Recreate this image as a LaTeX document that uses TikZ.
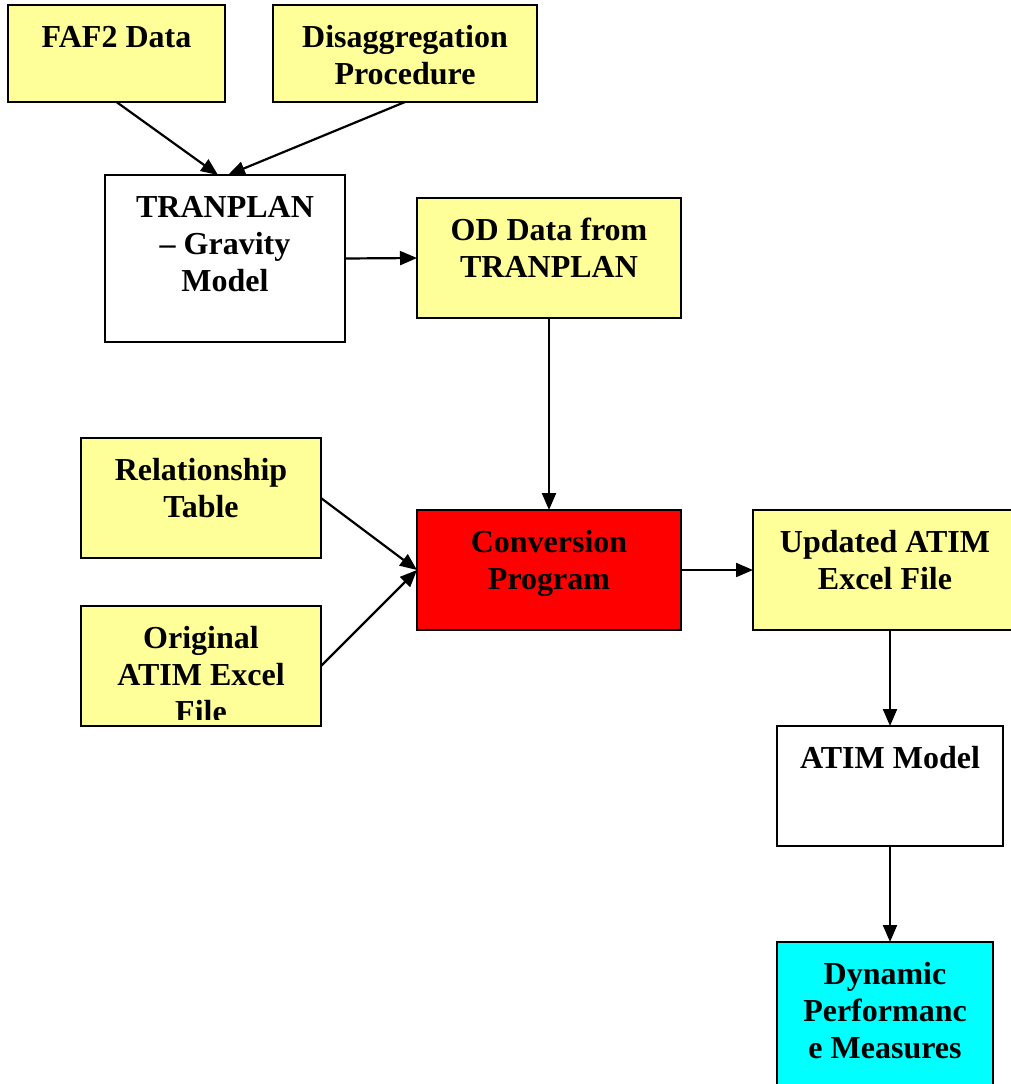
\documentclass[tikz,border=0pt]{standalone}
\usepackage{fontspec}
\setmainfont{Liberation Serif}
\usetikzlibrary{arrows.meta}
\definecolor{lightyel}{HTML}{FFFF99}
\definecolor{cyanbox}{HTML}{00FFFF}
\definecolor{redbox}{HTML}{FF0000}
\newcommand\boxtxt[3]{\parbox[t][#2pt][t]{#1pt}{\centering\fontsize{32}{37}\selectfont\bfseries\rule{0pt}{42pt}#3\par}}
\begin{document}
\begin{tikzpicture}[x=1pt,y=-1pt,
  box/.style={draw=black, line width=2pt, inner sep=0pt, outer sep=0pt, anchor=north west},
  ybox/.style={box, fill=lightyel},
  conn/.style={line width=2.2pt, -{Triangle[length=17pt,width=14pt]}}]
\useasboundingbox (0,0) rectangle (1010,1084);
\node[ybox] (faf) at (8,5) {\boxtxt{217}{97}{FAF2 Data}};
\node[ybox] (dis) at (273,5) {\boxtxt{264}{97}{Disaggregation\\Procedure}};
\node[box, fill=white] (tran) at (105,175) {\boxtxt{240}{167}{TRANPLAN\\– Gravity\\Model}};
\node[ybox] (od) at (417,198) {\boxtxt{264}{120}{OD Data from\\TRANPLAN}};
\node[ybox] (rel) at (81,438) {\boxtxt{240}{120}{Relationship\\Table}};
\node[box, fill=redbox] (conv) at (417,510) {\boxtxt{264}{120}{Conversion\\Program}};
\fill[lightyel] (81,606) rectangle (321,726);
\begin{scope}
  \clip (70,600) rectangle (330,719);
  \node[box, draw=none] (orig) at (81,606) {\boxtxt{240}{120}{Original\\ATIM Excel\\File}};
\end{scope}
\draw[line width=2pt] (orig.north west) rectangle (orig.south east);
\node[ybox] (upd) at (753,510) {\boxtxt{264}{120}{Updated ATIM\\Excel File}};
\node[box, fill=white] (atim) at (777,726) {\boxtxt{226}{120}{ATIM Model}};
\node[box, fill=cyanbox] (dyn) at (777,942) {\boxtxt{216}{150}{Dynamic\\Performanc\\e Measures}};
\draw[conn] (faf.south) -- ([xshift=-7pt]tran.north);
\draw[conn] (dis.south) -- ([xshift=3pt]tran.north);
\draw[conn] (tran.east) -- (od.west);
\draw[conn] (od.south) -- (conv.north);
\draw[conn] (rel.east) -- (conv.west);
\draw[conn] (orig.east) -- (conv.west);
\draw[conn] (conv.east) -- (upd.west);
\draw[conn] (atim.north |- upd.south) -- (atim.north);
\draw[conn] (atim.south) -- (atim.south |- dyn.north);
\end{tikzpicture}
\end{document}
